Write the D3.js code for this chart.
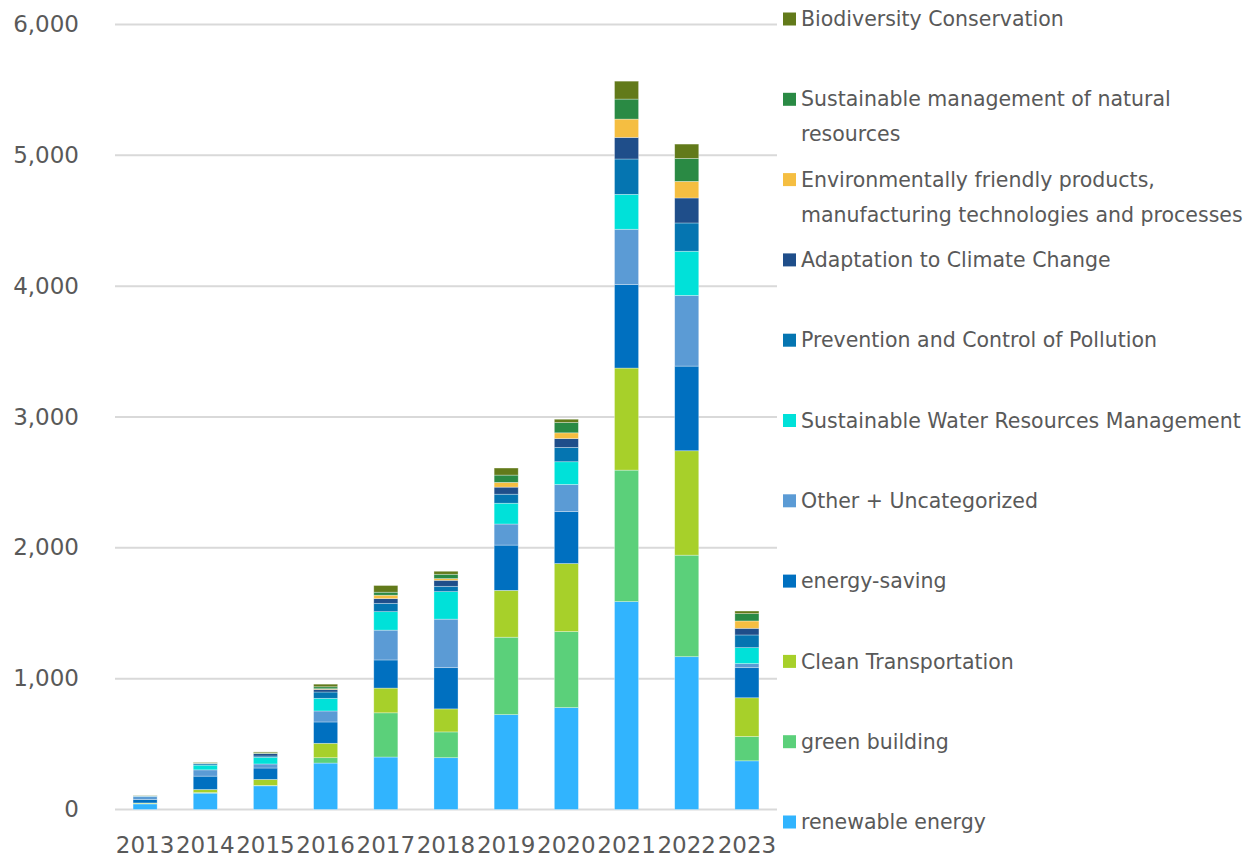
<!DOCTYPE html>
<html>
<head>
<meta charset="utf-8">
<script src="https://cdn.jsdelivr.net/npm/d3@7"></script>
<style>
  body { margin: 0; background: #fff; }
  text { font-family: "DejaVu Sans", Verdana, sans-serif; fill: #595959; }
</style>
</head>
<body>
<script>
// green bond allocation by category, stacked bottom to top
var years = ["2013", "2014", "2015", "2016", "2017", "2018", "2019", "2020", "2021", "2022", "2023"];

var renewableEnergy   = [43, 125, 181, 355, 401, 396, 725, 779, 1589, 1168, 372];
var greenBuilding     = [3, 4, 3, 41, 338, 197, 592, 581, 1005, 776, 186];
var cleanTransport    = [4, 24, 46, 110, 189, 176, 358, 520, 780, 798, 296];
var energySaving      = [26, 102, 87, 163, 215, 315, 346, 397, 639, 647, 230];
var otherUncat        = [22, 48, 31, 84, 228, 371, 161, 207, 422, 540, 31];
var waterMgmt         = [2, 36, 51, 97, 141, 210, 159, 174, 267, 338, 122];
var pollution         = [3, 10, 10, 48, 64, 41, 69, 110, 270, 216, 97];
var adaptation        = [1, 4, 18, 20, 36, 46, 54, 67, 165, 191, 51];
var ecoProducts       = [0, 1, 2, 5, 26, 13, 36, 44, 140, 127, 56];
var naturalResources  = [1, 2, 4, 15, 23, 33, 56, 79, 153, 176, 56];
var biodiversity      = [2, 4, 7, 20, 51, 23, 54, 25, 137, 109, 20];

var seriesNames = [
  ["renewable energy"],
  ["green building"],
  ["Clean Transportation"],
  ["energy-saving"],
  ["Other + Uncategorized"],
  ["Sustainable Water Resources Management"],
  ["Prevention and Control of Pollution"],
  ["Adaptation to Climate Change"],
  ["Environmentally friendly products,", "manufacturing technologies and processes"],
  ["Sustainable management of natural", "resources"],
  ["Biodiversity Conservation"]
];
var seriesValues = [renewableEnergy, greenBuilding, cleanTransport, energySaving, otherUncat,
  waterMgmt, pollution, adaptation, ecoProducts, naturalResources, biodiversity];
var seriesColors = ["#31b4fe", "#5bd07a", "#a7d02a", "#0070c0", "#5b9bd5",
  "#00e1d9", "#0575b1", "#1f4e8a", "#f5be41", "#2a8a44", "#627a1a"];
var yTicks = [0, 1000, 2000, 3000, 4000, 5000, 6000];

var width = 1247,
    height = 858;

var svg = d3.select("body").append("svg")
    .attr("width", width)
    .attr("height", height);

var x = d3.scaleBand()
    .domain(years)
    .range([115, 777])
    .paddingInner(0.6)
    .paddingOuter(0.3);

var y = d3.scaleLinear()
    .domain([0, 6000])
    .range([809.5, 24.5]);

// table for the stack
var keys = d3.range(seriesValues.length);
var table = years.map(function(yr, i) {
    var row = { year: yr };
    keys.forEach(function(k) { row[k] = seriesValues[k][i]; });
    return row;
});
var stacked = d3.stack().keys(keys)(table);

// gridlines
svg.append("g").selectAll("line")
    .data(yTicks)
    .enter().append("line")
    .attr("x1", 115).attr("x2", 777)
    .attr("y1", function(d) { return y(d); })
    .attr("y2", function(d) { return y(d); })
    .style("stroke", "#d9d9d9")
    .style("stroke-width", 2);

// y labels
svg.append("g").selectAll("text")
    .data(yTicks)
    .enter().append("text")
    .attr("x", 79)
    .attr("y", function(d) { return y(d); })
    .attr("dy", "0.33em")
    .attr("text-anchor", "end")
    .style("font-size", "23px")
    .text(d3.format(","));

// bars
svg.append("g").selectAll("g")
    .data(stacked)
    .enter().append("g")
    .style("fill", function(d, i) { return seriesColors[i]; })
    .selectAll("rect")
    .data(function(d) { return d; })
    .enter().append("rect")
    .attr("x", function(d) { return x(d.data.year); })
    .attr("width", x.bandwidth())
    .attr("y", function(d) { return y(d[1]); })
    .attr("height", function(d) { return Math.max(0, y(d[0]) - y(d[1])); })
    .style("stroke", "#fff")
    .style("stroke-opacity", 0.45)
    .style("stroke-width", 0.7);

// x labels
svg.append("g").selectAll("text")
    .data(years)
    .enter().append("text")
    .attr("x", function(d) { return x(d) + x.bandwidth() / 2; })
    .attr("y", 853)
    .attr("text-anchor", "middle")
    .style("font-size", "23px")
    .text(function(d) { return d; });

// legend, top item is the last series
var legend = svg.append("g").selectAll("g")
    .data(keys.slice().reverse())
    .enter().append("g")
    .attr("transform", function(d, i) { return "translate(783," + (19 + i * 80.3) + ")"; });

legend.append("rect")
    .attr("x", 0).attr("y", -6.5)
    .attr("width", 13).attr("height", 13)
    .style("fill", function(d) { return seriesColors[d]; });

legend.each(function(d) {
    var t = d3.select(this).append("text")
        .attr("x", 18)
        .style("font-size", "20.5px");
    seriesNames[d].forEach(function(line, j) {
        t.append("tspan")
            .attr("x", 18)
            .attr("y", j * 35)
            .attr("dy", "0.35em")
            .text(line);
    });
});
</script>
</body>
</html>
